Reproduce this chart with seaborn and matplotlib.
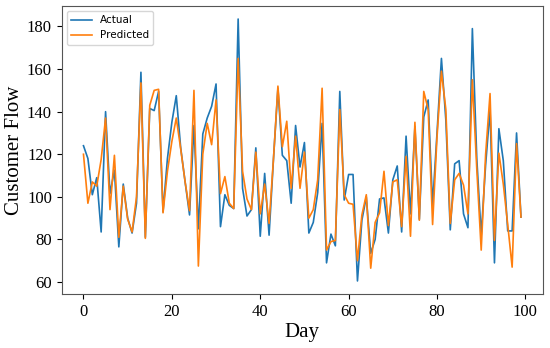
import matplotlib
matplotlib.use("Agg")
import matplotlib.pyplot as plt
import seaborn as sns
import numpy as np

days = np.arange(100)
actual = [124, 118, 101, 109, 83.5, 140, 101.5, 112.5, 76.5, 106,
          90, 83, 97, 158.5, 81, 141.5, 140.5, 149.5, 93, 118,
          135, 147.5, 123, 107, 91.5, 133.5, 85, 129.5, 137, 142.5,
          153, 86, 101, 96, 94.5, 183.5, 104, 91, 94, 123,
          81.5, 111, 82, 118, 151, 119.5, 117, 97, 133.5, 114,
          125.5, 83, 88, 102, 134.5, 69, 82.5, 77, 149.5, 98.5,
          110.5, 110.5, 60.5, 89, 100, 73.5, 80, 99, 99.5, 83,
          108, 114.5, 83.5, 128.5, 92, 133, 89.5, 137.5, 145.5, 96,
          130, 165, 136, 84.5, 115.5, 117, 92, 85.5, 179, 118,
          82, 115, 141, 69, 132, 117, 84, 84, 130, 90.5]
predicted = [120, 97, 107, 105, 117.5, 137, 94, 119.5, 81, 105,
             89.5, 83.5, 100, 153.5, 80.5, 143, 150, 150.5, 92.5, 112,
             126, 137, 122.5, 107, 93.5, 150, 67.5, 120, 134.5, 124.5,
             145.5, 101.5, 109.5, 97, 94.5, 165, 112, 99, 94, 121,
             92, 106, 87.5, 118, 152, 123.5, 135.5, 104, 128.5, 104,
             121, 90, 94, 108, 151, 75, 79, 79.5, 141, 101,
             97, 96.5, 70, 91.5, 101, 66.5, 88, 92.5, 112, 86.5,
             107, 108, 86, 119, 81.5, 135, 89, 149.5, 141, 87,
             128, 159, 141, 87.5, 108, 111, 105.5, 92, 155, 113,
             75, 120, 148.5, 79.5, 120.5, 106, 87, 67, 125, 90.5]

plt.figure(figsize=(5.5, 3.48), dpi=100)
ax = plt.axes([0.112, 0.155, 0.875, 0.828])
sns.lineplot(x=days, y=actual, label="Actual", color="#1f77b4", linewidth=1.2, ax=ax)
sns.lineplot(x=days, y=predicted, label="Predicted", color="#ff7f0e", linewidth=1.2, ax=ax)

serif = ["Liberation Serif", "DejaVu Serif"]
ax.set_xlabel("Day", fontsize=15, family=serif, labelpad=2)
ax.set_ylabel("Customer Flow", fontsize=15, family=serif, labelpad=2)
ax.set_xticks([0, 20, 40, 60, 80, 100])
ax.set_yticks([60, 80, 100, 120, 140, 160, 180])
for lab in ax.get_xticklabels() + ax.get_yticklabels():
    lab.set_family(serif)
    lab.set_fontsize(12)
for s in ax.spines.values():
    s.set_color("#555555")
ax.legend(loc="upper left", fontsize=7.5, frameon=True, handlelength=2)

plt.savefig("out.png", dpi=100)
